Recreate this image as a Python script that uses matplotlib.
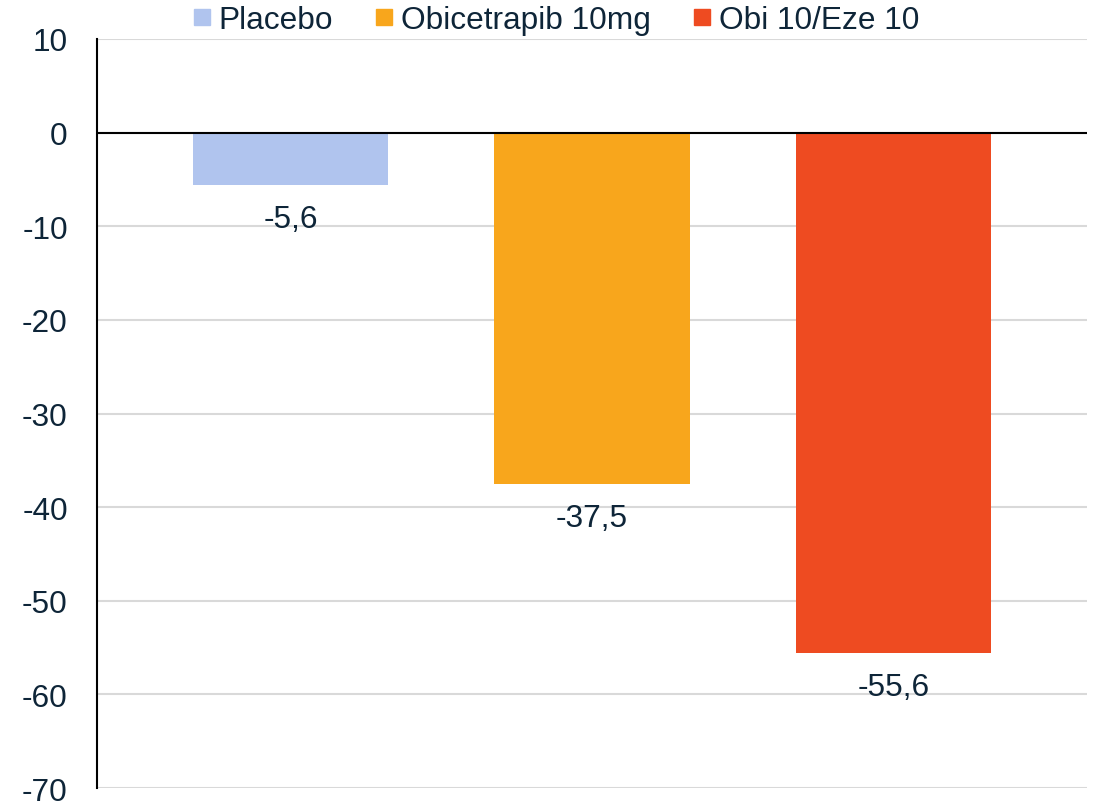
import matplotlib
matplotlib.use('Agg')
import matplotlib.pyplot as plt
from matplotlib.lines import Line2D

# Datos del grafico
series = ['Placebo', 'Obicetrapib 10mg', 'Obi 10/Eze 10']
values = [-5.6, -37.5, -55.6]
colors = ['#B0C4EE', '#F8A61C', '#EE4B21']
yticks = [10, 0, -10, -20, -30, -40, -50, -60, -70]

text_color = '#0E2538'
fsize = 22.8
plt.rcParams['font.family'] = ['Liberation Sans', 'DejaVu Sans']

fig = plt.figure(figsize=(10.94, 8.03), dpi=100)
ax = fig.add_axes([0.0887, 0.0174, 0.9049, 0.9328])

pos = list(range(len(series)))
ax.bar(pos, values, width=0.648, color=colors, zorder=3)

# Etiquetas de valor debajo de cada barra
for x, v in zip(pos, values):
  ax.annotate(('%.1f' % v).replace('.', ','), (x, v), xytext=(0, -24.5),
              textcoords='offset points', ha='center', va='center',
              fontsize=fsize, color=text_color, zorder=4)

ax.set_xlim(-0.643, 2.643)
ax.set_ylim(-70, 10)
ax.set_yticks(yticks)
ax.set_yticklabels([str(t) for t in yticks])
ax.set_xticks([])
ax.tick_params(axis='y', length=0, pad=21, labelsize=fsize, labelcolor=text_color)

ax.grid(axis='y', color='#D9D9D9', linewidth=1.5, zorder=0)
ax.axhline(0, color='black', linewidth=1.5, zorder=4)

for s in ['top', 'right', 'bottom']:
  ax.spines[s].set_visible(False)
ax.spines['left'].set_color('black')
ax.spines['left'].set_linewidth(1.5)
ax.spines['left'].set_zorder(5)

handles = [Line2D([], [], marker='s', linestyle='none', markersize=11.5,
                  markerfacecolor=c, markeredgecolor=c) for c in colors]
fig.legend(handles, series, loc='center', bbox_to_anchor=(0.5087, 0.974),
           ncol=3, frameon=False, fontsize=fsize, labelcolor=text_color,
           handlelength=0.5, handletextpad=0.28, columnspacing=1.36,
           borderaxespad=0, borderpad=0)

plt.savefig('out.png', dpi=100)
plt.close('all')
